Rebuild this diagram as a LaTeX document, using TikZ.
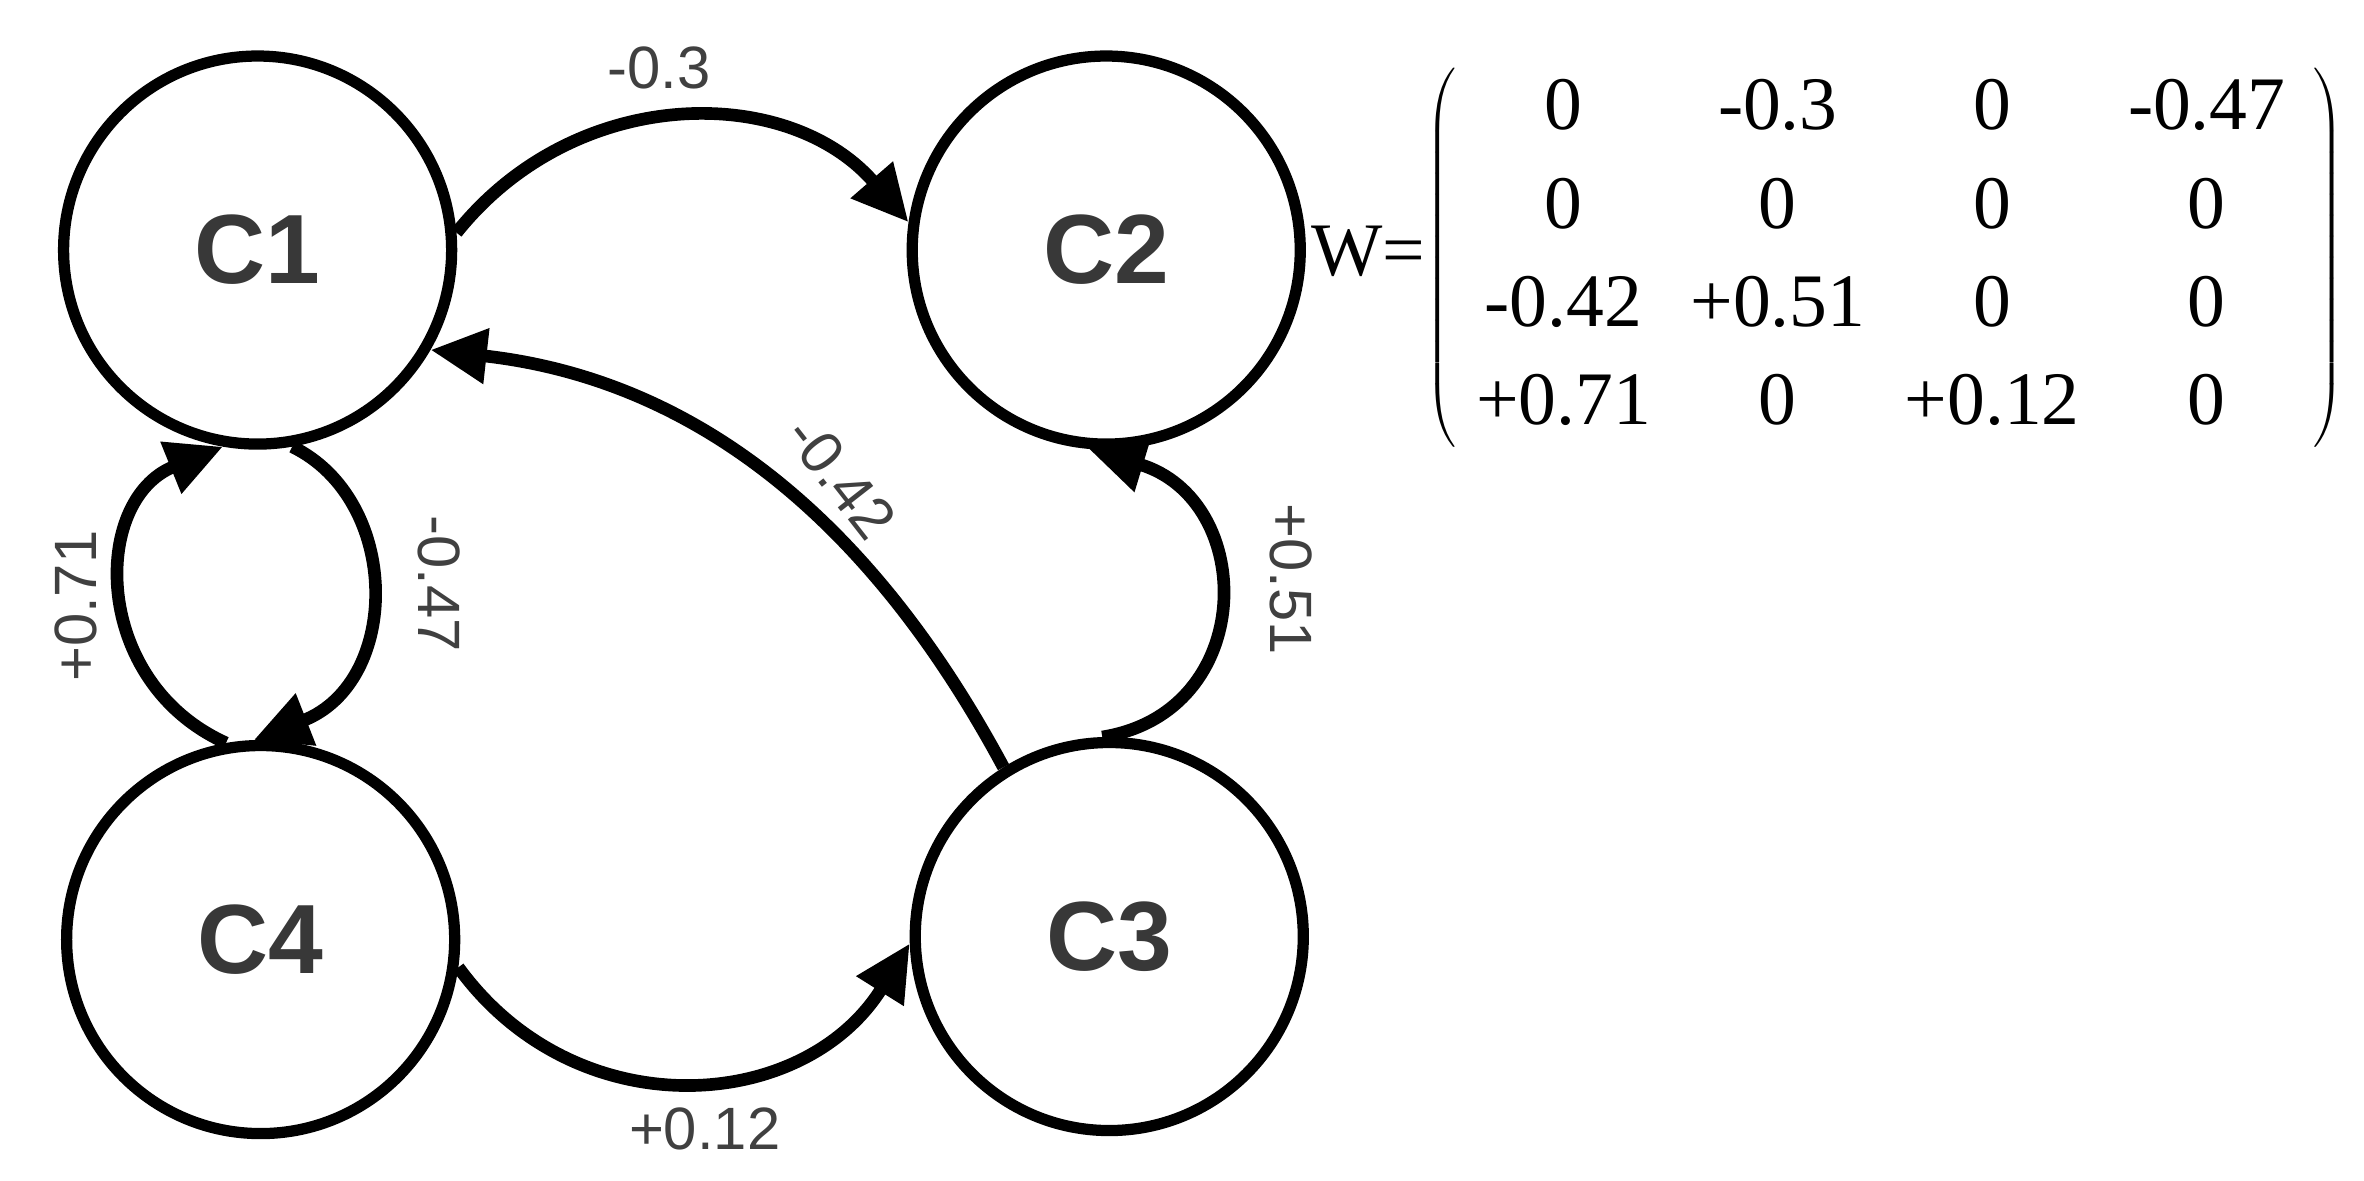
\documentclass[tikz,border=0pt]{standalone}
\usepackage{fontspec}
\setmainfont{Liberation Serif}
\setsansfont{Liberation Sans}
\usetikzlibrary{arrows.meta}
\begin{document}
\begin{tikzpicture}[x=0.01515cm,y=-0.01515cm,
  cnode/.style={circle,draw=black,line width=3.2pt,minimum size=3.88cm,inner sep=0pt,font=\sffamily\bfseries\fontsize{28}{30}\selectfont,text=black!78},
  edge/.style={line width=3.6pt,-{Triangle[length=16pt,width=15pt]}},
  lab/.style={font=\sffamily\fontsize{17}{19}\selectfont,text=black!75}]
\useasboundingbox (0,0) rectangle (1560,779);
\draw[line width=1pt,blue!30] (732,618) circle (130);
\node[cnode] (C1) at (170,165) {C1};
\node[cnode] (C2) at (730,165) {C2};
\node[cnode] (C4) at (172,620) {C4};
\node[cnode] (C3) at (732,618) {C3};
\draw[edge] (C1.5) .. controls (380,55) and (520,55) .. (C2.172);
\draw[edge] (C3.122) .. controls (605,400) and (500,255) .. (C1.-30);
\draw[edge] (C3.92) .. controls (830,470) and (830,330) .. (C2.-95);
\draw[edge] (C1.-80) .. controls (265,330) and (265,450) .. (C4.92);
\draw[edge] (C4.100) .. controls (60,450) and (60,330) .. (C1.-100);
\draw[edge] (C4.-8) .. controls (380,745) and (530,735) .. (C3.182);
\node[lab] (l1) at (435,45) {-0.3};
\node[lab,rotate=-52] (l2) at (555,315) {-0.42};
\node[lab,rotate=-90] (l3) at (852,382) {+0.51};
\node[lab,rotate=-90] (l4) at (290,385) {-0.47};
\node[lab,rotate=90] (l5) at (50,400) {+0.71};
\node[lab] (l6) at (465,745) {+0.12};
\node[font=\fontsize{21.5}{21.5}\selectfont,anchor=west,inner sep=0pt] (W) at (865,170) {W=$\left(\renewcommand{\arraystretch}{1.3}\setlength{\tabcolsep}{0pt}\begin{tabular}{cccc}
\makebox[61pt]{0}&\makebox[61pt]{-0.3}&\makebox[61pt]{0}&\makebox[61pt]{-0.47}\\
0&0&0&0\\
-0.42&+0.51&0&0\\
+0.71&0&+0.12&0
\end{tabular}\right)$};
\end{tikzpicture}
\end{document}
